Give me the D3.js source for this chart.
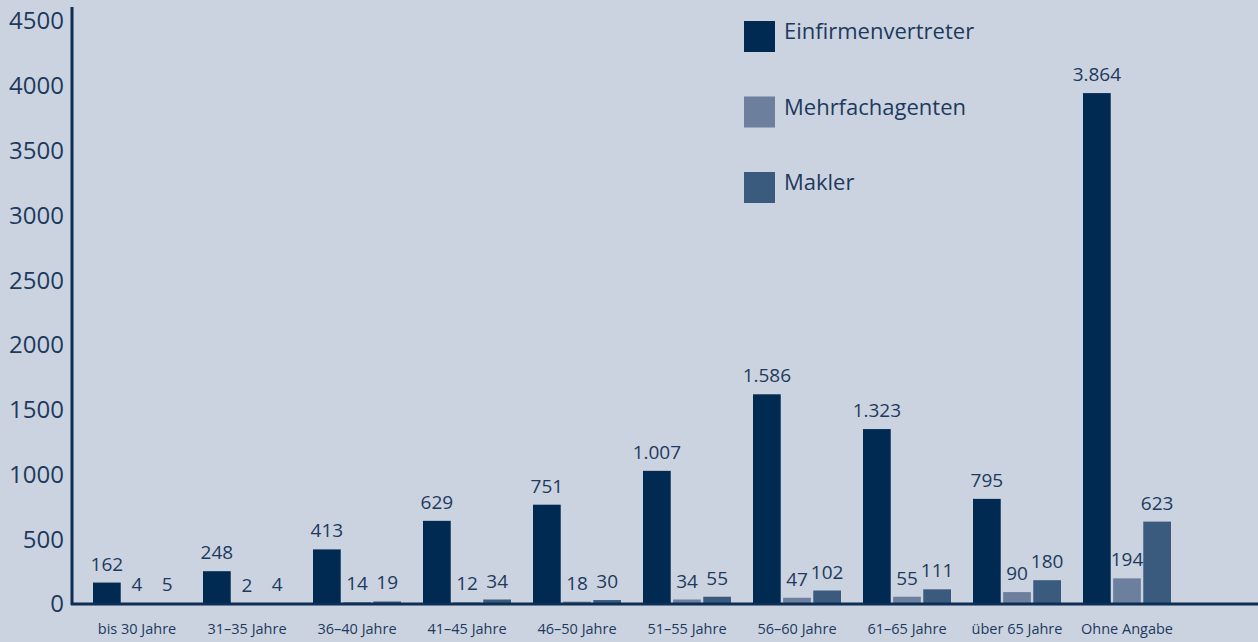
<!DOCTYPE html>
<html>
<head>
<meta charset="utf-8">
<script src="https://cdn.jsdelivr.net/npm/d3@7"></script>
<style>
  html, body { margin: 0; padding: 0; background: #ccd3e0; }
  svg { display: block; font-family: "Open Sans", sans-serif; }
</style>
</head>
<body>
<div id="chart"></div>
<script>
var categories = ["bis 30 Jahre", "31–35 Jahre", "36–40 Jahre", "41–45 Jahre", "46–50 Jahre",
    "51–55 Jahre", "56–60 Jahre", "61–65 Jahre", "über 65 Jahre", "Ohne Angabe"];
var seriesNames = ["Einfirmenvertreter", "Mehrfachagenten", "Makler"];
var einfirmen = [162, 248, 413, 629, 751, 1007, 1586, 1323, 795, 3864];
var mehrfach = [4, 2, 14, 12, 18, 34, 47, 55, 90, 194];
var makler = [5, 4, 19, 34, 30, 55, 102, 111, 180, 623];
var yTicks = [0, 500, 1000, 1500, 2000, 2500, 3000, 3500, 4000, 4500];

var colors = ["#002a52", "#6c7f9c", "#3a5a7e"];
var textColor = "#1c3a5e";

var width = 1258, height = 642;
var baseY = 604;

var svg = d3.select("#chart")
    .append("svg")
    .attr("width", width)
    .attr("height", height);

var data = categories.map(function(c, i) {
    return { cat: c, values: [einfirmen[i], mehrfach[i], makler[i]] };
});

// outer scale for age groups, inner for the three series
var x0 = d3.scaleBand()
    .domain(categories)
    .range([82, 1182])
    .paddingInner(0.2)
    .paddingOuter(0.1);

var x1 = d3.scaleBand()
    .domain([0, 1, 2])
    .range([0, x0.bandwidth()])
    .paddingInner(0.08);

// the axis labels and the bars are not quite on the same scale in the original
var yAxisScale = d3.scaleLinear().domain([0, 4500]).range([baseY, 21]);
var y = d3.scaleLinear().domain([0, 4500]).range([baseY, baseY - 595]);

// y tick labels
svg.append("g")
    .selectAll("text")
    .data(yTicks)
    .enter()
    .append("text")
    .attr("x", 64)
    .attr("y", function(d) { return yAxisScale(d); })
    .attr("dy", "0.35em")
    .attr("text-anchor", "end")
    .style("font-size", "24px")
    .style("fill", textColor)
    .text(function(d) { return d; });

// bars
var groups = svg.selectAll(".group")
    .data(data)
    .enter()
    .append("g")
    .attr("class", "group")
    .attr("transform", function(d) { return "translate(" + x0(d.cat) + ",0)"; });

groups.selectAll("rect")
    .data(function(d) { return d.values; })
    .enter()
    .append("rect")
    .attr("x", function(d, i) { return x1(i); })
    .attr("y", function(d) { return y(d); })
    .attr("width", x1.bandwidth())
    .attr("height", function(d) { return baseY - y(d); })
    .style("fill", function(d, i) { return colors[i]; });

// value labels, German thousands separator
var fmt = d3.formatLocale({ decimal: ",", thousands: ".", grouping: [3], currency: ["", "€"] }).format(",d");
groups.selectAll(".val")
    .data(function(d) { return d.values; })
    .enter()
    .append("text")
    .attr("class", "val")
    .attr("x", function(d, i) { return x1(i) + x1.bandwidth() / 2; })
    .attr("y", function(d) { return y(d) - 12; })
    .attr("text-anchor", "middle")
    .style("font-size", "19px")
    .style("fill", textColor)
    .text(function(d) { return fmt(d); });

// category labels
svg.append("g")
    .selectAll("text")
    .data(categories)
    .enter()
    .append("text")
    .attr("x", function(d) { return x0(d) + x0.bandwidth() / 2; })
    .attr("y", 634)
    .attr("text-anchor", "middle")
    .style("font-size", "14.5px")
    .style("fill", textColor)
    .text(function(d) { return d; });

// axis lines
svg.append("line")
    .attr("x1", 72).attr("x2", 72)
    .attr("y1", 7).attr("y2", baseY + 1)
    .attr("stroke", "#0d2f55")
    .attr("stroke-width", 3);
svg.append("line")
    .attr("x1", 71).attr("x2", width)
    .attr("y1", baseY).attr("y2", baseY)
    .attr("stroke", "#0d2f55")
    .attr("stroke-width", 3);

// legend
var legend = svg.append("g")
    .selectAll("g")
    .data(seriesNames)
    .enter()
    .append("g")
    .attr("transform", function(d, i) { return "translate(744," + (21 + i * 75.5) + ")"; });

legend.append("rect")
    .attr("width", 31)
    .attr("height", 31)
    .style("fill", function(d, i) { return colors[i]; });

legend.append("text")
    .attr("x", 40)
    .attr("y", 18)
    .attr("text-anchor", "start")
    .style("font-size", "22px")
    .style("fill", textColor)
    .text(function(d) { return d; });
</script>
</body>
</html>
